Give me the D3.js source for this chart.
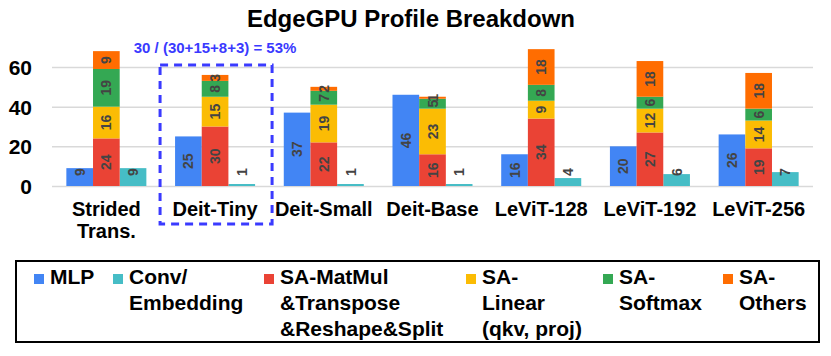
<script src="https://d3js.org/d3.v7.min.js"></script>
<style>
  body { margin: 0; background: #fff; }
  text { font-family: "Liberation Sans", Arial, sans-serif; font-weight: bold; }
  .grid line { stroke: #d9d9d9; stroke-width: 1.5; }
  .grid text { font-size: 21px; fill: #000; }
  .val { font-size: 14px; fill: #444; }
  .cat { font-size: 20px; fill: #000; }
  .leg { font-size: 21px; fill: #000; }
</style>
<svg id="chart" width="831" height="356"></svg>
<script>
  const categories = ["Strided Trans.", "Deit-Tiny", "Deit-Small", "Deit-Base", "LeViT-128", "LeViT-192", "LeViT-256"]
  const catLines = [["Strided", "Trans."], ["Deit-Tiny"], ["Deit-Small"], ["Deit-Base"], ["LeViT-128"], ["LeViT-192"], ["LeViT-256"]]
  const mlp = [9, 25, 37, 46, 16, 20, 26]
  const conv = [9, 1, 1, 1, 4, 6, 7]
  const matmul = [24, 30, 22, 16, 34, 27, 19]
  const linear = [16, 15, 19, 23, 9, 12, 14]
  const softmax = [19, 8, 7, 5, 8, 6, 6]
  const others = [9, 3, 2, 1, 18, 18, 18]
  const yTicks = [0, 20, 40, 60]

  const colors = {mlp: "#4285f4", conv: "#46bdc6", matmul: "#ea4335", linear: "#fbbc04", softmax: "#34a853", others: "#ff6d01"}
  const blue = "#3a3aff"

  const svg = d3.select("#chart")
  const x = d3.scaleBand().domain(categories).range([52, 813]).paddingInner(0.264).paddingOuter(0.132)
  const sub = d3.scaleBand().domain(["mlp", "sa", "conv"]).range([0, x.bandwidth()])
  const y = d3.scaleLinear().domain([0, 60]).range([186, 67])

  // title
  svg.append("text").attr("x", 411).attr("y", 27).attr("text-anchor", "middle")
    .style("font-size", "24px").text("EdgeGPU Profile Breakdown")

  // grid + y labels
  const gy = svg.append("g").attr("class", "grid").attr("transform", "translate(52,0)")
    .call(d3.axisLeft(y).tickValues(yTicks).tickSize(-761).tickPadding(20))
  gy.select(".domain").remove()
  gy.selectAll("text").attr("dy", "0.36em")

  const rows = categories.map((c, i) => ({cat: c, mlp: mlp[i], conv: conv[i], matmul: matmul[i], linear: linear[i], softmax: softmax[i], others: others[i]}))
  const saKeys = ["matmul", "linear", "softmax", "others"]
  const stacked = d3.stack().keys(saKeys)(rows)

  function label(cx, y0, y1, v) {
    let cy = (y(y0) + y(y1)) / 2
    if (y0 === 0) cy = Math.min(cy, y(0) - 14)
    svg.append("text").attr("class", "val")
      .attr("transform", "translate(" + cx + "," + cy + ") rotate(-90)")
      .attr("text-anchor", "middle").attr("dy", "0.36em").text(v)
  }

  // simple bars
  ;["mlp", "conv"].forEach(k => {
    rows.forEach(d => {
      const bx = x(d.cat) + sub(k)
      svg.append("rect").attr("x", bx).attr("width", sub.bandwidth())
        .attr("y", y(d[k])).attr("height", y(0) - y(d[k])).attr("fill", colors[k])
      label(bx + sub.bandwidth() / 2, 0, d[k], d[k])
    })
  })

  // stacked SA bars
  stacked.forEach(layer => {
    layer.forEach(s => {
      const bx = x(s.data.cat) + sub("sa")
      svg.append("rect").attr("x", bx).attr("width", sub.bandwidth())
        .attr("y", y(s[1])).attr("height", y(s[0]) - y(s[1])).attr("fill", colors[layer.key])
    })
  })
  stacked.forEach(layer => {
    layer.forEach(s => {
      label(x(s.data.cat) + sub("sa") + sub.bandwidth() / 2, s[0], s[1], s.data[layer.key])
    })
  })

  // category labels
  categories.forEach((c, i) => {
    const t = svg.append("text").attr("class", "cat").attr("text-anchor", "middle")
    catLines[i].forEach((ln, j) => {
      t.append("tspan").attr("x", x(c) + x.bandwidth() / 2).attr("y", 216 + j * 22).text(ln)
    })
  })

  // annotation
  const hx = x("Deit-Tiny")
  svg.append("rect").attr("x", hx - 15).attr("y", 65).attr("width", x.bandwidth() + 32).attr("height", 159)
    .attr("fill", "none").attr("stroke", blue).attr("stroke-width", 3).attr("stroke-dasharray", "8,6")
  svg.append("text").attr("x", hx + x.bandwidth() / 2).attr("y", 53).attr("text-anchor", "middle")
    .style("font-size", "15px").attr("fill", blue).text("30 / (30+15+8+3) = 53%")

  // legend
  svg.append("rect").attr("x", 16).attr("y", 261).attr("width", 803).attr("height", 81)
    .attr("fill", "none").attr("stroke", "#000").attr("stroke-width", 2)
  const legend = [
    {key: "mlp", x: 34, lines: ["MLP"]},
    {key: "conv", x: 113, lines: ["Conv/", "Embedding"]},
    {key: "matmul", x: 264, lines: ["SA-MatMul", "&Transpose", "&Reshape&Split"]},
    {key: "linear", x: 466, lines: ["SA-", "Linear", "(qkv, proj)"]},
    {key: "softmax", x: 603, lines: ["SA-", "Softmax"]},
    {key: "others", x: 723, lines: ["SA-", "Others"]}
  ]
  legend.forEach(l => {
    svg.append("rect").attr("x", l.x).attr("y", 274).attr("width", 10).attr("height", 10).attr("fill", colors[l.key])
    const t = svg.append("text").attr("class", "leg")
    l.lines.forEach((ln, j) => {
      t.append("tspan").attr("x", l.x + 16).attr("y", 284 + j * 26).text(ln)
    })
  })
</script>
